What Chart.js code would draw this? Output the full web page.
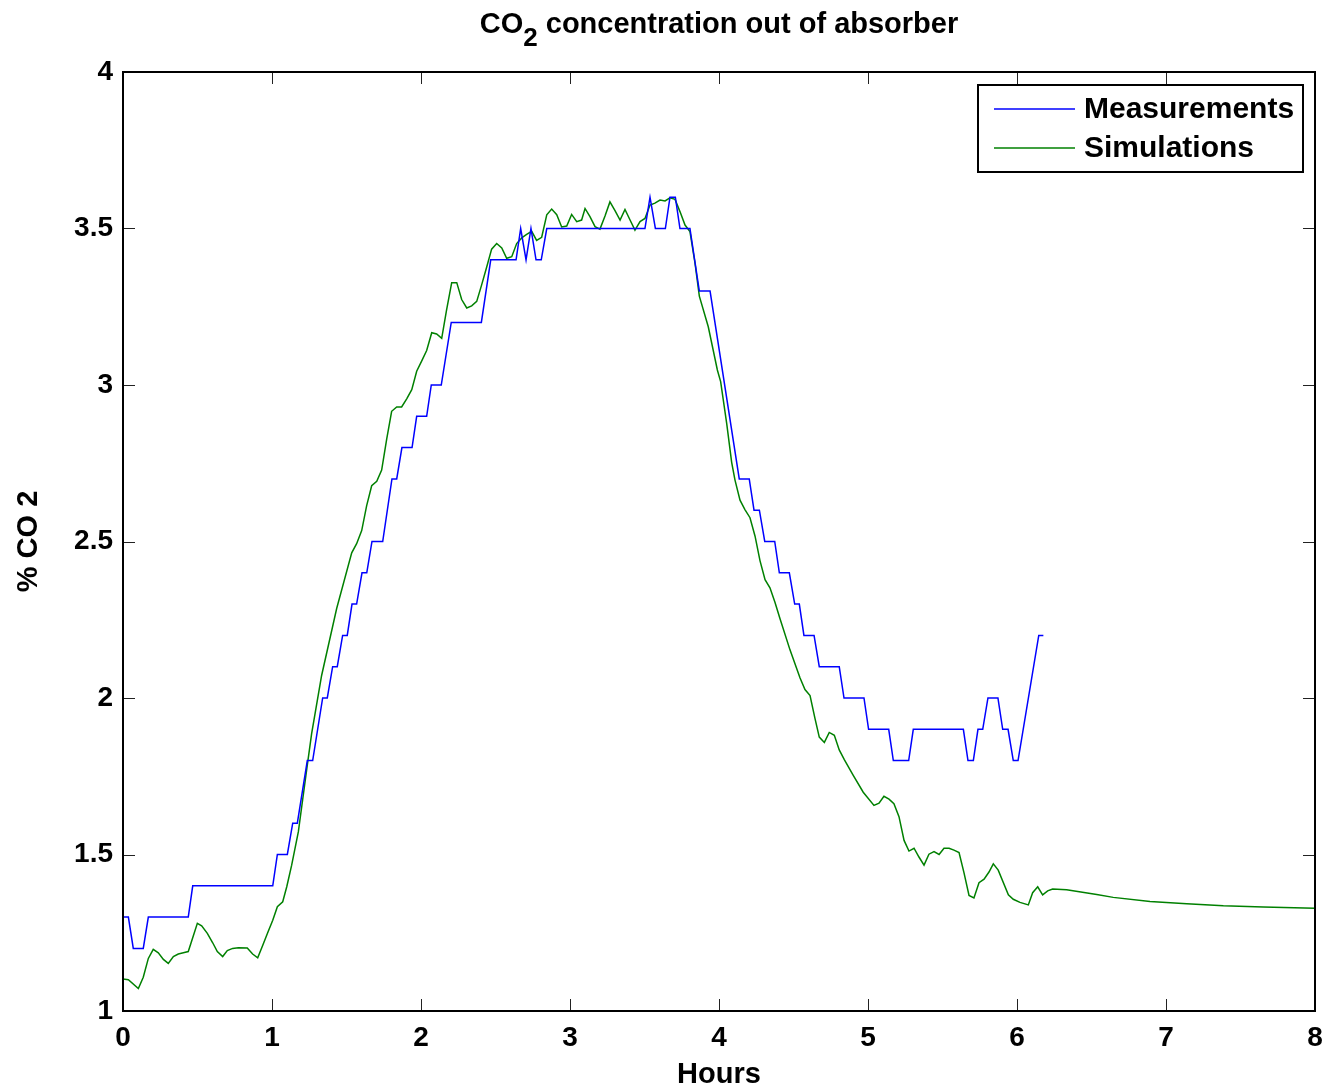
<!DOCTYPE html>
<html>
<head>
<meta charset="utf-8">
<script src="https://cdn.jsdelivr.net/npm/chart.js@4/dist/chart.umd.min.js"></script>
<style>
  html, body { margin: 0; padding: 0; background: #fff; }
  #wrap { width: 1327px; height: 1089px; }
</style>
</head>
<body>
<div id="wrap"><canvas id="co2Chart" width="1327" height="1089"></canvas></div>
<script>
// values (hours, % CO2)
const measHours = [0, 0.036, 0.069, 0.136, 0.170, 0.438, 0.468, 1.005, 1.036, 1.103,
  1.139, 1.170, 1.237, 1.273, 1.340, 1.371, 1.407, 1.438, 1.474, 1.505,
  1.537, 1.568, 1.604, 1.636, 1.671, 1.743, 1.805, 1.837, 1.872, 1.940,
  1.971, 2.038, 2.069, 2.136, 2.203, 2.405, 2.468, 2.638, 2.669, 2.705,
  2.738, 2.772, 2.807, 2.844, 3.503, 3.537, 3.573, 3.640, 3.671, 3.707,
  3.738, 3.805, 3.868, 3.940, 4.136, 4.203, 4.235, 4.271, 4.307, 4.374,
  4.405, 4.472, 4.508, 4.539, 4.570, 4.638, 4.673, 4.807, 4.839, 4.973,
  5.004, 5.139, 5.170, 5.273, 5.304, 5.640, 5.671, 5.707, 5.738, 5.770,
  5.805, 5.872, 5.904, 5.940, 5.975, 6.007, 6.146, 6.177];
const measValues = [1.3, 1.3, 1.2, 1.2, 1.3, 1.3, 1.4, 1.4, 1.5, 1.5,
  1.6, 1.6, 1.8, 1.8, 2.0, 2.0, 2.1, 2.1, 2.2, 2.2,
  2.3, 2.3, 2.4, 2.4, 2.5, 2.5, 2.7, 2.7, 2.8, 2.8,
  2.9, 2.9, 3.0, 3.0, 3.2, 3.2, 3.4, 3.4, 3.5, 3.4,
  3.5, 3.4, 3.4, 3.5, 3.5, 3.6, 3.5, 3.5, 3.6, 3.6,
  3.5, 3.5, 3.3, 3.3, 2.7, 2.7, 2.6, 2.6, 2.5, 2.5,
  2.4, 2.4, 2.3, 2.3, 2.2, 2.2, 2.1, 2.1, 2.0, 2.0,
  1.9, 1.9, 1.8, 1.8, 1.9, 1.9, 1.8, 1.8, 1.9, 1.9,
  2.0, 2.0, 1.9, 1.9, 1.8, 1.8, 2.2, 2.2];

const simHours = [0, 0.036, 0.103, 0.136, 0.170, 0.203, 0.237, 0.271, 0.304, 0.338,
  0.371, 0.405, 0.438, 0.499, 0.528, 0.566, 0.602, 0.633, 0.669, 0.700,
  0.736, 0.774, 0.834, 0.870, 0.904, 0.938, 0.971, 1.005, 1.036, 1.072,
  1.099, 1.132, 1.177, 1.233, 1.266, 1.333, 1.434, 1.535, 1.568, 1.602,
  1.635, 1.669, 1.703, 1.736, 1.770, 1.803, 1.837, 1.870, 1.904, 1.938,
  1.971, 2.005, 2.038, 2.072, 2.105, 2.139, 2.172, 2.206, 2.240, 2.273,
  2.307, 2.340, 2.374, 2.407, 2.441, 2.474, 2.508, 2.542, 2.575, 2.609,
  2.642, 2.676, 2.709, 2.743, 2.776, 2.810, 2.844, 2.877, 2.911, 2.944,
  2.978, 3.011, 3.045, 3.078, 3.101, 3.134, 3.168, 3.201, 3.235, 3.268,
  3.302, 3.336, 3.369, 3.403, 3.436, 3.470, 3.503, 3.537, 3.570, 3.604,
  3.638, 3.671, 3.705, 3.738, 3.772, 3.805, 3.839, 3.868, 3.928, 3.989,
  4.011, 4.052, 4.085, 4.107, 4.141, 4.174, 4.208, 4.242, 4.275, 4.309,
  4.342, 4.376, 4.409, 4.477, 4.544, 4.577, 4.611, 4.644, 4.673, 4.707,
  4.740, 4.774, 4.807, 4.841, 4.901, 4.968, 5.040, 5.074, 5.107, 5.141,
  5.174, 5.208, 5.242, 5.275, 5.309, 5.342, 5.376, 5.409, 5.443, 5.477,
  5.510, 5.544, 5.577, 5.611, 5.644, 5.678, 5.711, 5.745, 5.779, 5.812,
  5.841, 5.874, 5.942, 5.975, 6.020, 6.076, 6.105, 6.139, 6.172, 6.206,
  6.239, 6.333, 6.535, 6.646, 6.893, 7.139, 7.385, 7.653, 8.0];
const simValues = [1.102, 1.100, 1.072, 1.108, 1.168, 1.197, 1.186, 1.165, 1.152, 1.174,
  1.182, 1.186, 1.190, 1.280, 1.272, 1.248, 1.218, 1.190, 1.174, 1.193,
  1.200, 1.202, 1.201, 1.182, 1.170, 1.210, 1.250, 1.290, 1.333, 1.349,
  1.397, 1.466, 1.573, 1.772, 1.886, 2.072, 2.286, 2.464, 2.493, 2.535,
  2.614, 2.678, 2.692, 2.728, 2.828, 2.916, 2.930, 2.930, 2.956, 2.985,
  3.044, 3.077, 3.110, 3.167, 3.163, 3.149, 3.241, 3.327, 3.327, 3.273,
  3.246, 3.253, 3.267, 3.320, 3.377, 3.434, 3.452, 3.438, 3.405, 3.410,
  3.452, 3.470, 3.481, 3.491, 3.462, 3.472, 3.544, 3.562, 3.544, 3.505,
  3.508, 3.545, 3.522, 3.527, 3.564, 3.538, 3.506, 3.498, 3.540, 3.585,
  3.557, 3.527, 3.561, 3.527, 3.495, 3.522, 3.532, 3.575, 3.581, 3.591,
  3.588, 3.598, 3.593, 3.554, 3.511, 3.490, 3.389, 3.284, 3.186, 3.048,
  3.011, 2.876, 2.753, 2.697, 2.632, 2.602, 2.576, 2.517, 2.439, 2.378,
  2.352, 2.305, 2.254, 2.153, 2.064, 2.027, 2.008, 1.935, 1.875, 1.858,
  1.890, 1.881, 1.834, 1.803, 1.753, 1.699, 1.657, 1.664, 1.686, 1.677,
  1.662, 1.621, 1.545, 1.511, 1.520, 1.492, 1.466, 1.501, 1.509, 1.500,
  1.520, 1.520, 1.514, 1.506, 1.442, 1.369, 1.361, 1.410, 1.421, 1.444,
  1.470, 1.450, 1.371, 1.357, 1.347, 1.339, 1.378, 1.397, 1.371, 1.384,
  1.390, 1.387, 1.372, 1.363, 1.350, 1.343, 1.336, 1.332, 1.328];

const seriesNames = ["Measurements", "Simulations"];
const seriesColors = ["#0000ff", "#008000"];

const FONT = "'Liberation Sans', Arial, Helvetica, sans-serif";

const toPoints = (xs, ys) => xs.map((x, i) => ({ x: x, y: ys[i] }));

// title with a real subscript
const titlePlugin = {
  id: "subTitle",
  afterDraw(chart) {
    const ctx = chart.ctx;
    const area = chart.chartArea;
    const parts = ["CO", "2", " concentration out of absorber"];
    ctx.save();
    ctx.fillStyle = "#000";
    ctx.textBaseline = "alphabetic";
    ctx.font = "bold 29px " + FONT;
    const w0 = ctx.measureText(parts[0]).width;
    const w2 = ctx.measureText(parts[2]).width;
    ctx.font = "bold 26px " + FONT;
    const w1 = ctx.measureText(parts[1]).width;
    let x = (area.left + area.right) / 2 - (w0 + w1 + w2) / 2;
    ctx.font = "bold 29px " + FONT;
    ctx.fillText(parts[0], x, 33);
    x += w0;
    ctx.font = "bold 26px " + FONT;
    ctx.fillText(parts[1], x, 46);
    x += w1;
    ctx.font = "bold 29px " + FONT;
    ctx.fillText(parts[2], x, 33);
    ctx.restore();
  }
};

// matlab style box with inward ticks on all sides
const framePlugin = {
  id: "frame",
  afterDraw(chart) {
    const ctx = chart.ctx;
    const { left, right, top, bottom } = chart.chartArea;
    const xs = chart.scales.x, ys = chart.scales.y;
    const len = 12;
    ctx.save();
    ctx.strokeStyle = "#222";
    ctx.lineWidth = 1;
    ctx.beginPath();
    xs.ticks.forEach(t => {
      const px = Math.round(xs.getPixelForValue(t.value)) + 0.5;
      ctx.moveTo(px, bottom); ctx.lineTo(px, bottom - len);
      ctx.moveTo(px, top); ctx.lineTo(px, top + len);
    });
    ys.ticks.forEach(t => {
      const py = Math.round(ys.getPixelForValue(t.value)) + 0.5;
      ctx.moveTo(left, py); ctx.lineTo(left + len, py);
      ctx.moveTo(right, py); ctx.lineTo(right - len, py);
    });
    ctx.stroke();
    ctx.strokeStyle = "#000";
    ctx.lineWidth = 2;
    ctx.strokeRect(left, top, right - left, bottom - top);
    ctx.restore();
  }
};

// legend box in the upper right corner
const legendPlugin = {
  id: "boxLegend",
  afterDraw(chart) {
    const ctx = chart.ctx;
    const bx = 978, by = 85, bw = 325, bh = 87;
    ctx.save();
    ctx.fillStyle = "#fff";
    ctx.fillRect(bx, by, bw, bh);
    ctx.strokeStyle = "#000";
    ctx.lineWidth = 2;
    ctx.strokeRect(bx, by, bw, bh);
    ctx.font = "bold 30px " + FONT;
    ctx.textBaseline = "middle";
    ctx.fillStyle = "#000";
    seriesNames.forEach((name, i) => {
      const y = by + 24 + i * 39;
      ctx.strokeStyle = seriesColors[i];
      ctx.lineWidth = 1.5;
      ctx.beginPath();
      ctx.moveTo(bx + 16, y);
      ctx.lineTo(bx + 97, y);
      ctx.stroke();
      ctx.fillText(name, bx + 106, y + 1);
    });
    ctx.restore();
  }
};

new Chart(document.getElementById("co2Chart"), {
  type: "line",
  data: {
    datasets: [
      {
        label: seriesNames[0],
        data: toPoints(measHours, measValues),
        borderColor: seriesColors[0],
        borderWidth: 1.5,
        pointRadius: 0,
        tension: 0,
        fill: false
      },
      {
        label: seriesNames[1],
        data: toPoints(simHours, simValues),
        borderColor: seriesColors[1],
        borderWidth: 1.5,
        pointRadius: 0,
        tension: 0,
        fill: false
      }
    ]
  },
  options: {
    responsive: false,
    animation: false,
    devicePixelRatio: 1,
    layout: { padding: { left: 0, right: 12, top: 72, bottom: 0 } },
    plugins: {
      legend: { display: false },
      title: { display: false },
      tooltip: { enabled: false }
    },
    scales: {
      x: {
        type: "linear",
        min: 0,
        max: 8,
        ticks: {
          stepSize: 1,
          color: "#000",
          padding: 10,
          maxRotation: 0,
          font: { family: FONT, size: 28, weight: "bold" }
        },
        grid: { drawOnChartArea: false, drawTicks: false },
        border: { display: false },
        title: {
          display: true,
          text: "Hours",
          color: "#000",
          padding: 0,
          font: { family: FONT, size: 29, weight: "bold", lineHeight: 1.0 }
        },
        afterFit: s => {
          s.height = 78;
          s.paddingLeft = 0;
          s.paddingRight = 0;
        }
      },
      y: {
        min: 1,
        max: 4,
        ticks: {
          stepSize: 0.5,
          color: "#000",
          padding: 10,
          callback: v => String(v),
          font: { family: FONT, size: 28, weight: "bold" }
        },
        grid: { drawOnChartArea: false, drawTicks: false },
        border: { display: false },
        title: {
          display: true,
          text: "% CO 2",
          color: "#000",
          padding: { top: 12, bottom: 0 },
          font: { family: FONT, size: 29, weight: "bold" }
        },
        afterFit: s => {
          s.width = 123;
          s.paddingTop = 0;
          s.paddingBottom = 0;
        }
      }
    }
  },
  plugins: [titlePlugin, framePlugin, legendPlugin]
});
</script>
</body>
</html>
